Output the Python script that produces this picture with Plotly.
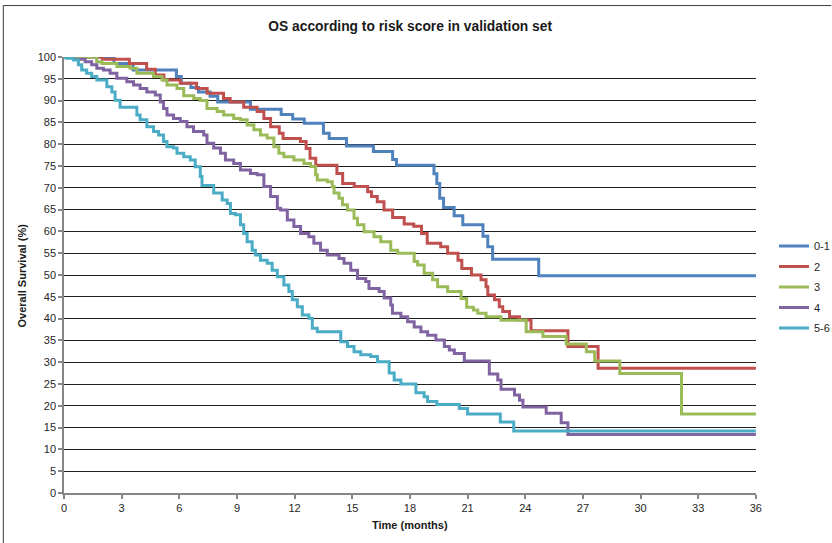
import plotly.graph_objects as go

# Kaplan-Meier step curves: each list holds the time (months) where the
# survival estimate steps to the matching value (%), last point at 36 months.
t_01 = [0, 2.6, 3.6, 5.85, 6.1, 6.6, 7.0, 7.6, 8.0, 9.7, 11.3, 11.9, 12.5, 13.5, 13.8,
        14.7, 16.1, 17.1, 17.3, 19.25, 19.4, 19.55, 19.75, 20.3, 20.75, 21.8, 22.05,
        22.3, 24.7, 36]
s_01 = [100, 98.5, 97.0, 95.5, 94.0, 93.0, 92.0, 91.0, 89.7, 88.0, 86.8, 85.8, 84.8,
        82.5, 81.3, 79.6, 78.3, 76.5, 75.2, 73.2, 71.0, 67.6, 65.5, 63.6, 61.5, 58.9,
        56.5, 53.6, 49.8, 49.8]

t_2 = [0, 2.0, 3.4, 4.3, 4.75, 5.2, 6.05, 6.9, 7.45, 8.3, 8.65, 9.35, 10.05, 10.4,
       10.75, 11.2, 11.4, 12.3, 12.6, 12.8, 13.1, 14.2, 14.5, 15.1, 15.8, 16.0, 16.3,
       16.65, 17.1, 17.7, 18.2, 18.6, 18.9, 19.6, 19.96, 20.5, 20.7, 21.2, 21.7, 21.96,
       22.05, 22.4, 22.65, 22.83, 23.18, 23.7, 24.3, 26.22, 27.79, 36]
s_2 = [100, 99.5, 98.5, 97.2, 95.9, 94.7, 94.0, 92.8, 91.7, 90.5, 89.7, 88.5, 87.5,
       85.9, 84.0, 82.5, 81.3, 80.6, 79.0, 76.8, 75.2, 73.3, 71.0, 70.3, 69.1, 68.0,
       66.8, 64.9, 63.2, 61.7, 61.2, 59.5, 57.3, 56.5, 55.0, 53.4, 51.5, 50.0, 48.9,
       47.3, 45.4, 44.3, 42.7, 41.6, 40.4, 39.7, 37.2, 33.6, 28.6, 28.6]

t_3 = [0, 1.7, 1.97, 2.75, 3.44, 3.79, 4.66, 5.10, 5.36, 5.88, 6.23, 6.75, 7.09, 7.44,
       7.97, 8.31, 8.83, 9.18, 9.53, 9.88, 10.22, 10.57, 10.92, 11.18, 11.44, 11.96,
       12.48, 12.83, 13.09, 13.18, 13.7, 13.96, 14.05, 14.31, 14.49, 14.75, 15.09,
       15.27, 15.61, 16.13, 16.48, 17.0, 17.36, 18.22, 18.4, 18.74, 19.18, 19.44, 19.96,
       20.66, 20.95, 21.3, 21.53, 21.96, 22.74, 24.05, 24.92, 26.13, 27.18, 27.61,
       28.92, 32.13, 36]
s_3 = [100, 98.9, 98.5, 97.8, 97.4, 96.3, 95.5, 94.7, 93.6, 92.8, 91.1, 90.5, 90.0,
       88.2, 87.5, 86.7, 85.9, 85.6, 84.4, 83.3, 82.1, 81.4, 79.4, 77.9, 77.1, 76.4,
       75.6, 74.9, 73.0, 71.8, 71.4, 70.3, 68.8, 67.6, 66.1, 64.9, 63.0, 61.5, 59.9,
       58.8, 57.6, 55.7, 55.0, 53.1, 52.3, 50.4, 48.9, 47.3, 46.2, 44.6, 42.6, 42.0,
       41.2, 40.4, 39.6, 37.0, 35.9, 34.2, 32.4, 30.3, 27.4, 18.1, 18.1]

t_4 = [0, 0.49, 1.10, 1.44, 1.71, 2.05, 2.40, 2.75, 3.27, 3.62, 3.96, 4.31, 4.75, 5.01,
       5.18, 5.36, 5.70, 6.05, 6.40, 6.74, 7.27, 7.44, 7.79, 8.14, 8.40, 8.83, 9.18,
       9.70, 10.05, 10.40, 10.75, 11.10, 11.27, 11.62, 11.96, 12.31, 12.74, 13.0, 13.35,
       13.7, 14.31, 14.57, 14.92, 15.27, 15.7, 15.87, 16.4, 16.66, 17.0, 17.09, 17.53,
       17.88, 18.22, 18.57, 18.92, 19.35, 19.79, 20.05, 20.31, 20.83, 22.13, 22.57,
       22.74, 23.44, 23.7, 23.88, 25.09, 25.87, 26.22, 36]
s_4 = [100, 99.5, 98.9, 98.2, 97.4, 97.0, 96.3, 95.1, 94.3, 93.6, 92.8, 92.0, 91.3,
       89.7, 88.2, 86.7, 85.9, 85.2, 84.0, 82.9, 82.1, 80.2, 79.1, 77.9, 76.4, 75.6,
       74.1, 73.3, 73.0, 70.3, 68.0, 65.3, 64.9, 62.6, 61.1, 59.5, 58.8, 57.3, 55.7,
       54.6, 53.8, 52.7, 51.1, 49.2, 48.5, 46.9, 46.2, 44.7, 43.1, 41.2, 40.4, 39.3,
       38.1, 37.0, 36.2, 35.1, 33.6, 32.8, 32.0, 30.3, 27.3, 25.9, 23.8, 22.5, 21.3,
       19.7, 18.3, 16.1, 13.4, 13.4]

t_56 = [0, 0.14, 0.49, 0.75, 0.92, 1.18, 1.44, 1.71, 2.23, 2.49, 2.66, 2.92, 3.79,
        3.96, 4.31, 4.66, 4.92, 5.18, 5.36, 5.70, 5.88, 6.23, 6.57, 6.83, 7.09, 7.18,
        7.79, 8.23, 8.49, 8.66, 8.92, 9.18, 9.35, 9.53, 9.79, 9.96, 10.22, 10.57, 10.83,
        11.10, 11.44, 11.70, 11.88, 12.14, 12.40, 12.74, 12.92, 13.18, 14.40, 14.75,
        15.09, 15.44, 15.96, 16.31, 16.92, 17.18, 17.53, 18.31, 18.74, 18.92, 19.4,
        20.57, 21.0, 22.7, 23.4, 36]
s_56 = [100, 99.7, 99.3, 98.2, 97.0, 96.3, 95.5, 94.7, 93.2, 92.0, 90.1, 88.5, 86.7,
        85.6, 84.0, 82.9, 82.1, 80.6, 79.4, 79.1, 77.9, 77.1, 76.4, 74.8, 72.6, 70.5,
        68.8, 67.2, 66.4, 64.1, 63.8, 61.5, 59.5, 57.6, 55.7, 54.6, 53.4, 52.7, 51.1,
        49.6, 47.7, 46.2, 44.3, 42.7, 40.8, 40.1, 37.8, 37.0, 34.7, 33.6, 32.4, 31.7,
        31.3, 30.1, 27.5, 25.9, 25.0, 23.0, 22.1, 21.0, 20.3, 19.4, 18.1, 16.3, 14.2,
        14.2]

groups = ["0-1", "2", "3", "4", "5-6"]
colors = ["#4F81BD", "#C0504D", "#9BBB59", "#8064A2", "#4BACC6"]
series = [(t_01, s_01), (t_2, s_2), (t_3, s_3), (t_4, s_4), (t_56, s_56)]

x_ticks = list(range(0, 37, 3))
y_ticks = list(range(0, 101, 5))

FONT = "Arial, Liberation Sans, sans-serif"

fig = go.Figure()
for name, color, (t, s) in zip(groups, colors, series):
    fig.add_trace(go.Scatter(
        x=t, y=s, name=name, legendgroup=name, mode="lines",
        line=dict(color=color, width=3, shape="hv"),
    ))

fig.update_layout(
    width=832, height=543,
    margin=dict(l=64, r=33, t=57, b=50),
    paper_bgcolor="white", plot_bgcolor="white",
    font=dict(family=FONT, size=11, color="#262626"),
    title=dict(text="<b>OS according to risk score in validation set</b>",
               x=0.493, xanchor="center", y=0.951, yanchor="middle",
               font=dict(size=13.8, color="#1a1a1a")),
    showlegend=True,
    legend=dict(xref="container", yref="container",
                x=774 / 832, xanchor="left", y=1 - 287 / 543, yanchor="middle",
                font=dict(size=11, color="#262626"),
                bgcolor="rgba(0,0,0,0)", tracegroupgap=1.5),
    xaxis=dict(range=[0, 36], tickmode="array", tickvals=x_ticks,
               showgrid=False, zeroline=False,
               showline=True, linecolor="#868686", linewidth=1.5,
               ticks="outside", ticklen=4, tickcolor="#868686", tickwidth=1.5,
               tickfont=dict(size=11)),
    yaxis=dict(range=[0, 100], tickmode="array", tickvals=y_ticks,
               showgrid=True, gridcolor="#1f1f1f", gridwidth=1,
               zeroline=False,
               showline=True, linecolor="#868686", linewidth=1.5,
               ticks="outside", ticklen=4, tickcolor="#868686", tickwidth=1.5,
               tickfont=dict(size=11)),
    annotations=[
        dict(text="<b>Time (months)</b>", xref="paper", yref="paper",
             x=0.5, y=-0.073, xanchor="center", yanchor="middle",
             showarrow=False, font=dict(size=11, color="#1a1a1a")),
        dict(text="<b>Overall Survival (%)</b>", xref="paper", yref="paper",
             x=-0.06, y=0.5, xanchor="center", yanchor="middle", textangle=-90,
             showarrow=False, font=dict(size=11, color="#1a1a1a")),
    ],
    shapes=[
        # chart frame (top and left edges)
        dict(type="line", xref="paper", yref="paper", x0=-0.0877, x1=1.109,
             y0=1.118, y1=1.118, line=dict(color="#3a3a3a", width=1)),
        dict(type="line", xref="paper", yref="paper", x0=-0.0877, x1=-0.0877,
             y0=1.118, y1=-0.115, line=dict(color="#3a3a3a", width=1)),
    ],
)

fig.write_html("out.html")
